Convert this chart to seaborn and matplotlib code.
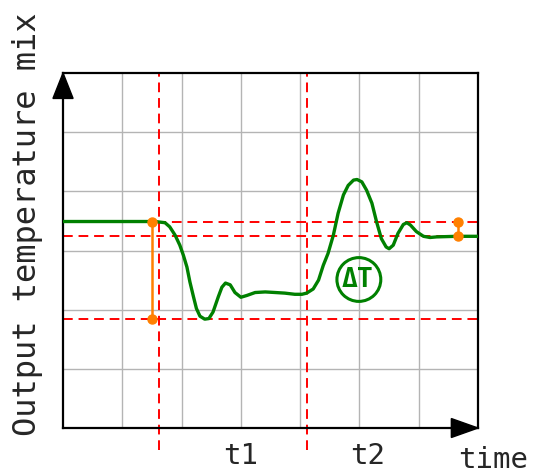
import numpy as np
import pandas as pd
import seaborn as sns
import matplotlib.pyplot as plt
from matplotlib.patches import Circle, Polygon

# response curve (grid units: 7 x 6 cells)
curve_t = [0.00, 1.55, 1.72, 1.80, 1.89, 1.97, 2.03, 2.09, 2.14, 2.20, 2.25, 2.31,
           2.39, 2.46, 2.53, 2.62, 2.68, 2.74, 2.82, 2.90, 3.00, 3.10, 3.24, 3.41,
           3.58, 3.74, 3.91, 4.03, 4.11, 4.22, 4.31, 4.39, 4.47, 4.56, 4.64, 4.73,
           4.81, 4.90, 4.96, 5.04, 5.12, 5.21, 5.29, 5.37, 5.45, 5.50, 5.57, 5.65,
           5.74, 5.80, 5.86, 5.96, 6.08, 6.19, 6.30, 6.64, 7.00]
curve_temp = [3.49, 3.49, 3.47, 3.40, 3.26, 3.09, 2.92, 2.72, 2.47, 2.22, 2.02, 1.89,
              1.84, 1.85, 1.96, 2.22, 2.38, 2.45, 2.42, 2.29, 2.21, 2.24, 2.29, 2.30,
              2.29, 2.28, 2.26, 2.26, 2.28, 2.35, 2.50, 2.75, 2.95, 3.26, 3.63, 3.94,
              4.10, 4.19, 4.20, 4.16, 4.02, 3.80, 3.48, 3.20, 3.06, 3.03, 3.09, 3.29,
              3.44, 3.47, 3.43, 3.32, 3.24, 3.22, 3.23, 3.24, 3.24]

start_level = 3.49
final_level = 3.24
min_level = 1.84
t_marks = [1.62, 4.11]
t_labels = ["t1", "t2"]
t_label_pos = [3.0, 5.14]

df = pd.DataFrame({"time": curve_t, "temp": curve_temp})

sns.set_style("white")
plt.rcParams["font.family"] = ["DejaVu Sans Mono", "DejaVu Sans"]

fig = plt.figure(figsize=(5.35, 4.74), dpi=100)
ax = fig.add_axes([0.1178, 0.0970, 0.7757, 0.749])
ax.set_xlim(0, 7)
ax.set_ylim(0, 6)

# grid
for gx in range(1, 7):
    ax.axvline(gx, color="#b4b4b4", lw=1.0, zorder=0)
for gy in range(1, 6):
    ax.axhline(gy, color="#b4b4b4", lw=1.0, zorder=0)

red_ls = (0, (5, 3))
for lvl in [start_level, final_level, min_level]:
    ax.axhline(lvl, color="red", lw=1.4, ls=red_ls, zorder=1)
for tm in t_marks:
    ax.plot([tm, tm], [-0.37, 6], color="red", lw=1.4, ls=red_ls, clip_on=False, zorder=1)

sns.lineplot(data=df, x="time", y="temp", color="green", lw=2.4, estimator=None,
             sort=False, ax=ax, zorder=3, solid_joinstyle="round")

# orange deltas
ax.plot([1.50, 1.50], [start_level, min_level], color="#ff8000", lw=1.8,
        marker="o", ms=6.5, zorder=4)
ax.plot([6.66, 6.66], [start_level, final_level], color="#ff8000", lw=1.8,
        marker="o", ms=6.5, zorder=4)

# delta T badge
ax.add_patch(Circle((4.99, 2.51), 0.37, fill=False, ec="green", lw=2.2, zorder=4))
ax.text(4.97, 2.50, "ΔT", color="green", fontsize=19, fontweight="bold",
        ha="center", va="center", zorder=5)

# axis arrows
ax.add_patch(Polygon([(-0.17, 5.57), (0.17, 5.57), (0, 6.0)], closed=True,
                     color="black", clip_on=False, zorder=6))
ax.add_patch(Polygon([(6.55, -0.16), (6.55, 0.16), (7.0, 0)], closed=True,
                     color="black", clip_on=False, zorder=6))

for s in ax.spines.values():
    s.set_color("black")
    s.set_linewidth(1.6)
    s.set_visible(True)
ax.set_xticks([])
ax.set_yticks([])
ax.set_xlabel("")
ax.set_ylabel("")

for lab, pos in zip(t_labels, t_label_pos):
    ax.text(pos, -0.47, lab, fontsize=21, ha="center", va="center", clip_on=False)
ax.text(7.25, -0.54, "time", fontsize=21, ha="center", va="center", clip_on=False)

fig.text(0.052, 0.527, "Output temperature mix", rotation=90, fontsize=23,
         ha="center", va="center")

fig.savefig("out.png", dpi=100)
